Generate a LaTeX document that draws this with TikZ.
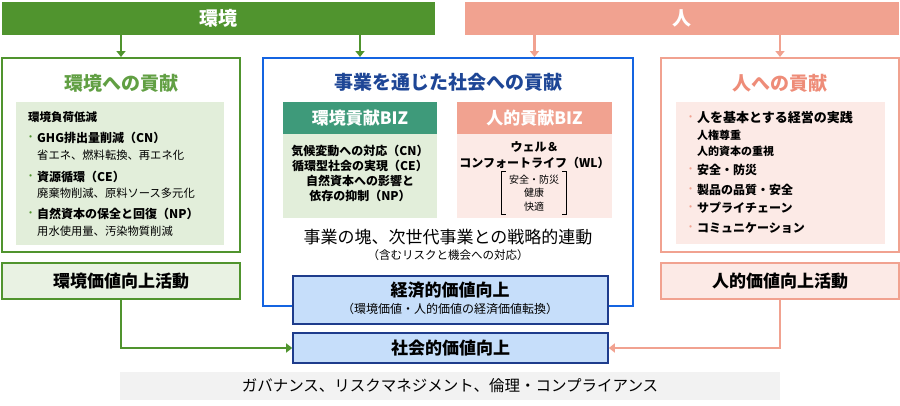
\documentclass[tikz,border=0pt]{standalone}
\usepackage{fontspec}
\setmainfont{Noto Sans CJK JP}
\usetikzlibrary{arrows.meta}

\definecolor{envgreen}{RGB}{80,148,46}
\definecolor{envlight}{RGB}{226,238,218}
\definecolor{envpale}{RGB}{233,242,227}
\definecolor{bizteal}{RGB}{62,154,122}
\definecolor{humpink}{RGB}{241,162,144}
\definecolor{humtext}{RGB}{238,140,120}
\definecolor{humlight}{RGB}{252,234,230}
\definecolor{midblue}{RGB}{20,100,225}
\definecolor{navy}{RGB}{30,70,150}
\definecolor{valblue}{RGB}{198,222,250}
\definecolor{valline}{RGB}{30,60,140}
\definecolor{govgray}{RGB}{242,242,242}

\newcommand{\fsz}[1]{\fontsize{#1}{#1}\selectfont}

\begin{document}
\begin{tikzpicture}[x=1pt, y=-1pt, inner sep=0pt,
    box/.style = {rectangle, minimum width=#1},
    frame/.style = {draw, line width=2pt},
    head/.style = {font=\fsz{17}\bfseries, text=white},
    ttl/.style = {font=\fsz{19}\bfseries},
    item/.style = {anchor=west, font=\fsz{12}\bfseries},
    note/.style = {anchor=west, font=\fsz{11.3}},
    dot/.style = {anchor=west, font=\fsz{9}},
    garrow/.style = {draw=envgreen, line width=2.5pt, -{Triangle[length=6pt,width=9pt]}},
    parrow/.style = {draw=humpink, line width=2.5pt, -{Triangle[length=6pt,width=9pt]}}]
\useasboundingbox (0,0) rectangle (900,405);

% top bars
\node[box=433, minimum height=33, fill=envgreen, text=white, ttl] (envbar) at (218.5,18.5) {環境};
\node[box=434, minimum height=33, fill=humpink, text=white, ttl] (humbar) at (682,18.5) {人};

% left column
\node[box=238, minimum height=194, frame, draw=envgreen] (envbox) at (121,155) {};
\node[ttl, text=envgreen!90!white] (envttl) at (121,83) {環境への貢献};
\node[box=208, minimum height=143, fill=envlight] (envin) at (120,173.5) {};
\node[item, font=\fsz{11.5}\bfseries] (e0) at (28,117) {環境負荷低減};
\node[dot, text=envgreen] at (29,138) {•};
\node[item] (e1) at (37,138) {GHG排出量削減（CN）};
\node[note] (e1n) at (37,155) {省エネ、燃料転換、再エネ化};
\node[dot, text=envgreen] at (29,177) {•};
\node[item] (e2) at (37,177) {資源循環（CE）};
\node[note] (e2n) at (37,193) {廃棄物削減、原料ソース多元化};
\node[dot, text=envgreen] at (29,214) {•};
\node[item] (e3) at (37,214) {自然資本の保全と回復（NP）};
\node[note] (e3n) at (37,231) {用水使用量、汚染物質削減};

\node[box=238, minimum height=36, fill=envpale, draw=envgreen, line width=1.8pt, font=\fsz{17}\bfseries] (envact) at (121,281) {環境価値向上活動};

% center column
\node[box=370, minimum height=248, frame, draw=midblue] (midbox) at (448,182) {};
\node[ttl, text=navy] (midttl) at (448,82) {事業を通じた社会への貢献};

\node[box=154, minimum height=32, fill=bizteal, head] (ebiz) at (360,118) {環境貢献BIZ};
\node[box=154, minimum height=84, fill=envlight] (ebizin) at (360,176) {};
\node[align=center, font=\fsz{12}\bfseries, text depth=0pt] (ebiztxt) at (360,173) {気候変動への対応（CN）\\[3pt]循環型社会の実現（CE）\\[3pt]自然資本への影響と\\[3pt]依存の抑制（NP）};

\node[box=155, minimum height=32, fill=humpink, head] (hbiz) at (534.5,118) {人的貢献BIZ};
\node[box=155, minimum height=84, fill=humlight] (hbizin) at (534.5,176) {};
\node[align=center, font=\fsz{12}\bfseries] (hbiztxt) at (534.5,155) {ウェル＆\\[4pt]コンフォートライフ（WL）};
\node[align=center, font=\fsz{10}, minimum width=64, minimum height=42] (brk) at (534,193) {安全・防災\\[3.5pt]健康\\[3.5pt]快適};
\draw[line width=0.8pt] ([xshift=4pt]brk.north west) -- (brk.north west) -- (brk.south west) -- ++(4pt,0);
\draw[line width=0.8pt] ([xshift=-4pt]brk.north east) -- (brk.north east) -- (brk.south east) -- ++(-4pt,0);

\node[font=\fsz{17}] (midtxt) at (448,237) {事業の塊、次世代事業との戦略的連動};
\node[font=\fsz{11.5}] (midnote) at (448,255) {（含むリスクと機会への対応）};

\node[box=315, minimum height=48, fill=valblue, draw=valline, line width=1.6pt] (econ) at (450.5,300) {};
\node[font=\fsz{17}\bfseries] (econttl) at (450,290) {経済的価値向上};
\node[font=\fsz{12}] (econnote) at (450,309) {（環境価値・人的価値の経済価値転換）};
\node[box=315, minimum height=30, fill=valblue, draw=valline, line width=1.6pt, font=\fsz{17}\bfseries] (soc) at (450.5,348) {社会的価値向上};

% right column
\node[box=238, minimum height=194, frame, draw=humpink] (humbox) at (780,155) {};
\node[ttl, text=humtext] (humttl) at (780,83) {人への貢献};
\node[box=209, minimum height=142, fill=humlight] (humin) at (780.5,173) {};
\node[dot, text=humpink] at (689,118) {•};
\node[item, font=\fsz{13}\bfseries] (h1) at (697,118) {人を基本とする経営の実践};
\node[note, font=\fsz{11}\bfseries] (h1a) at (697,135) {人権尊重};
\node[note, font=\fsz{11}\bfseries] (h1b) at (697,151) {人的資本の重視};
\node[dot, text=humpink] at (689,170) {•};
\node[item] (h2) at (697,170) {安全・防災};
\node[dot, text=humpink] at (689,190) {•};
\node[item] (h3) at (697,190) {製品の品質・安全};
\node[dot, text=humpink] at (689,208) {•};
\node[item] (h4) at (697,208) {サプライチェーン};
\node[dot, text=humpink] at (689,228) {•};
\node[item] (h5) at (697,228) {コミュニケーション};

\node[box=238, minimum height=36, fill=humlight, draw=humpink, line width=1.8pt, font=\fsz{17}\bfseries] (humact) at (780,281) {人的価値向上活動};

% governance
\node[box=660, minimum height=28, fill=govgray, font=\fsz{15.5}] (gov) at (450,386) {ガバナンス、リスクマネジメント、倫理・コンプライアンス};

% connectors
\draw[garrow] (envbar.south -| envbox.north) -- (envbox.north);
\draw[garrow] (envbar.south -| ebiz.north) -- (midbox.north -| ebiz.north);
\draw[parrow] (humbar.south -| hbiz.north) -- (midbox.north -| hbiz.north);
\draw[parrow] (humbar.south -| humbox.north) -- (humbox.north);
\draw[garrow] (envact.south) |- (soc.west);
\draw[parrow] (humact.south) |- (soc.east);
\end{tikzpicture}
\end{document}
